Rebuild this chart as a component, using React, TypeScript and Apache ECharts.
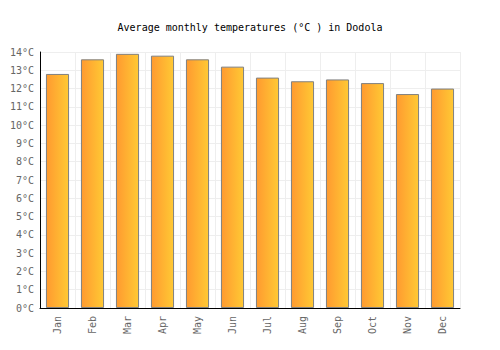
import React, { useEffect, useRef } from "react";
import * as echarts from "echarts";

const months = ["Jan", "Feb", "Mar", "Apr", "May", "Jun", "Jul", "Aug", "Sep", "Oct", "Nov", "Dec"];
const temps = [12.8, 13.6, 13.9, 13.8, 13.6, 13.2, 12.6, 12.4, 12.5, 12.3, 11.7, 12.0];
const titleText = "Average monthly temperatures (°C ) in Dodola";

export default function App() {
  const ref = useRef<HTMLDivElement>(null);
  useEffect(() => {
    const chart = echarts.init(ref.current!, null, { renderer: "svg" });
    const font = "'DejaVu Sans Mono', monospace";
    chart.setOption({
      animation: false,
      title: {
        text: titleText,
        left: "center",
        top: 17,
        textStyle: { fontFamily: font, fontSize: 10, fontWeight: "normal", color: "#000" },
      },
      grid: { left: 40, right: 40, top: 52, bottom: 42 },
      xAxis: {
        type: "category",
        data: months,
        boundaryGap: true,
        axisLine: { show: true, lineStyle: { color: "#000", width: 1 } },
        axisTick: { show: false },
        axisLabel: { rotate: 90, fontFamily: font, fontSize: 10, color: "#666", margin: 8 },
        splitLine: { show: true, lineStyle: { color: "#eee", width: 1 } },
      },
      yAxis: {
        type: "value",
        min: 0,
        max: 14,
        interval: 1,
        axisLine: { show: true, lineStyle: { color: "#000", width: 1 } },
        axisTick: { show: false },
        axisLabel: { fontFamily: font, fontSize: 10, color: "#666", formatter: "{value}°C", margin: 6 },
        splitLine: { show: true, lineStyle: { color: "#eee", width: 1 } },
      },
      series: [
        {
          type: "bar",
          data: temps,
          barWidth: "66%",
          itemStyle: {
            color: new echarts.graphic.LinearGradient(0, 0, 1, 0, [
              { offset: 0, color: "#FF9A30" },
              { offset: 1, color: "#FFC934" },
            ]),
            borderColor: "#808080",
            borderWidth: 1,
          },
        },
      ],
    });
    return () => chart.dispose();
  }, []);
  return <div ref={ref} style={{ width: 500, height: 350, position: "absolute", left: 0, top: 0 }} />;
}
